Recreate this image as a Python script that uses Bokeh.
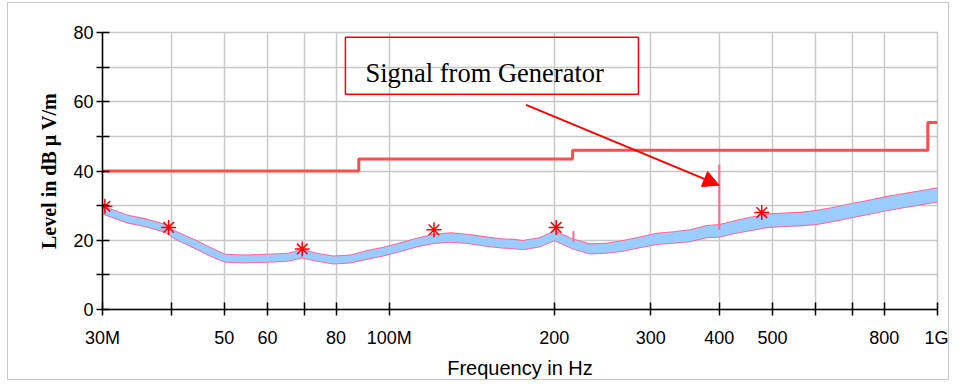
import math
from bokeh.plotting import figure
from bokeh.models import FixedTicker, Label, Arrow, NormalHead, BoxAnnotation, Range1d, ColumnDataSource
from bokeh.embed import file_html
from bokeh.resources import INLINE

# ---- data (frequencies in MHz, levels in dB µV/m) ----
limit_freq = [30, 88, 216, 960, 1000]
limit_level = [40, 43.5, 46, 54, 54]

trace_freq = [30.0, 30.25, 33.4, 35.8, 39.0, 40.6, 44.2, 47.4, 50.2, 54.6, 60.2, 65.4,
              69.4, 73.8, 79.1, 85.0, 91.2, 97.6, 104.9, 112.6, 120.7, 129.5, 139.0,
              149.0, 159.9, 168.9, 175.2, 187.9, 200.2, 216.3, 232.0, 248.9, 267.1,
              286.4, 307.3, 329.8, 353.7, 379.4, 400.0, 424.6, 455.4, 488.6, 524.3,
              562.2, 603.3, 647.2, 694.2, 744.6, 798.8, 856.9, 919.2, 1000.0]
trace_level = [28.8, 28.5, 26.1, 25.1, 23.5, 21.6, 18.9, 16.5, 14.8, 14.6, 14.8, 15.1,
               16.1, 15.1, 14.3, 14.6, 15.8, 16.7, 18.0, 19.4, 20.4, 20.8, 20.4,
               19.7, 19.1, 18.9, 18.6, 19.4, 21.3, 18.9, 17.5, 17.7, 18.4,
               19.4, 20.4, 20.8, 21.3, 22.5, 22.7, 23.7, 24.7, 25.6, 25.9,
               26.1, 26.6, 27.5, 28.5, 29.4, 30.4, 31.3, 32.1, 33.1]
# half-thickness of the measured envelope (dB)
trace_spread = [1.0, 1.0, 1.0, 1.0, 1.0, 1.0, 1.1, 1.1, 1.0, 1.0, 1.0, 1.0,
                1.1, 1.0, 1.0, 1.0, 1.1, 1.1, 1.1, 1.1, 1.2, 1.2, 1.2,
                1.2, 1.2, 1.2, 1.2, 1.2, 1.3, 1.3, 1.3, 1.3, 1.4,
                1.4, 1.5, 1.5, 1.6, 1.6, 1.7, 1.7, 1.8, 1.8, 1.8,
                1.8, 1.9, 1.9, 1.9, 1.9, 1.9, 1.9, 1.9, 1.9]
peak_extra = 0.3

marker_freq = [30.3, 39.6, 69.4, 120.7, 201.6, 478.0]
marker_level = [29.8, 23.7, 17.5, 23.0, 23.7, 28.0]

spike_freq = [216.8, 400.0]
spike_base = [19.5, 23.0]
spike_top = [22.7, 41.9]

x_ticks = [30, 40, 50, 60, 70, 80, 100, 200, 300, 400, 500, 600, 700, 800, 1000]
x_tick_labels = ["30M", "", "50", "60", "", "80", "100M", "200", "300", "400", "500", "", "", "800", "1G"]
x_grid = [40, 50, 60, 70, 80, 100, 200, 300, 400, 500, 600, 700, 800, 1000]
y_ticks = [0, 10, 20, 30, 40, 50, 60, 70, 80]
y_tick_labels = ["0", "", "20", "", "40", "", "60", "", "80"]

annotation_text = "Signal from Generator"
y_label = "Level in dB \u00b5 V/m"
x_label = "Frequency in Hz"

# ---- figure ----
p = figure(width=942, height=378, x_axis_type="log", title=None,
           x_range=Range1d(30, 1000), y_range=Range1d(0, 80),
           output_backend="svg", toolbar_location=None,
           min_border_left=94, min_border_right=13, min_border_top=29, min_border_bottom=66)
p.margin = (2, 0, 0, 7)
p.styles = {"border": "1.5px solid #c8c8c8"}
p.background_fill_color = "white"
p.border_fill_color = "white"
p.outline_line_color = "#c8c8c8"
p.outline_line_width = 1.5

p.xgrid.ticker = FixedTicker(ticks=x_grid)
p.ygrid.ticker = FixedTicker(ticks=y_ticks)
for g in (p.xgrid, p.ygrid):
    g.grid_line_color = "#c8c8c8"
    g.grid_line_width = 1.5

p.xaxis.ticker = FixedTicker(ticks=x_ticks)
p.xaxis.major_label_overrides = {t: l for t, l in zip(x_ticks, x_tick_labels)}
p.yaxis.ticker = FixedTicker(ticks=y_ticks)
p.yaxis.major_label_overrides = {t: l for t, l in zip(y_ticks, y_tick_labels)}
for ax in (p.xaxis[0], p.yaxis[0]):
    ax.axis_line_color = "black"
    ax.axis_line_width = 1.5
    ax.major_tick_line_color = "black"
    ax.major_tick_line_width = 1.5
    ax.major_tick_out = 6
    ax.major_tick_in = 7
    ax.minor_tick_line_color = None
    ax.major_label_text_font = "Liberation Sans"
    ax.major_label_text_font_size = "18px"
    ax.major_label_text_color = "black"
p.yaxis.major_label_standoff = 3
p.xaxis.major_label_standoff = 12
p.xaxis.axis_label = x_label
p.xaxis.axis_label_text_font = "Liberation Sans"
p.xaxis.axis_label_text_font_size = "20px"
p.xaxis.axis_label_text_font_style = "normal"
p.xaxis.axis_label_text_color = "black"
p.xaxis.axis_label_standoff = 6
p.yaxis.axis_label = y_label
p.yaxis.axis_label_text_font = "Liberation Serif"
p.yaxis.axis_label_text_font_size = "20px"
p.yaxis.axis_label_text_font_style = "bold"
p.yaxis.axis_label_text_color = "black"
p.yaxis.axis_label_standoff = 10

# limit line
p.step(limit_freq, limit_level, mode="after", line_color="#ff4d4d", line_width=3)

# measured trace: peak envelope (pink) under average envelope (blue)
src = ColumnDataSource(dict(
    f=trace_freq,
    plo=[l - s - peak_extra for l, s in zip(trace_level, trace_spread)],
    phi=[l + s + peak_extra for l, s in zip(trace_level, trace_spread)],
    blo=[l - s for l, s in zip(trace_level, trace_spread)],
    bhi=[l + s for l, s in zip(trace_level, trace_spread)],
))
p.varea(x="f", y1="plo", y2="phi", source=src, fill_color="#ff6699")
p.varea(x="f", y1="blo", y2="bhi", source=src, fill_color="#99ccff")

p.segment(x0=spike_freq, y0=spike_base, x1=spike_freq, y1=spike_top,
          line_color="#ff6699", line_width=2)

p.scatter(marker_freq, marker_level, marker="asterisk", size=15,
          line_color="red", line_width=1.5)

# annotation
p.add_layout(BoxAnnotation(left=83.2, right=284.8, top=78.6, bottom=62.2,
                           fill_alpha=0, line_color="red", line_alpha=1.0, line_width=1.5))
p.add_layout(Label(x=90.5, y=68.2, text=annotation_text, text_font="Liberation Serif",
                   text_font_size="26.5px", text_color="black",
                   text_align="left", text_baseline="alphabetic"))
p.add_layout(Arrow(end=NormalHead(size=16, fill_color="red", line_color="red"),
                   x_start=177.7, y_start=59.1, x_end=400.0, y_end=35.9,
                   line_color="red", line_width=2))

open("out.html", "w").write(file_html(p, INLINE))
